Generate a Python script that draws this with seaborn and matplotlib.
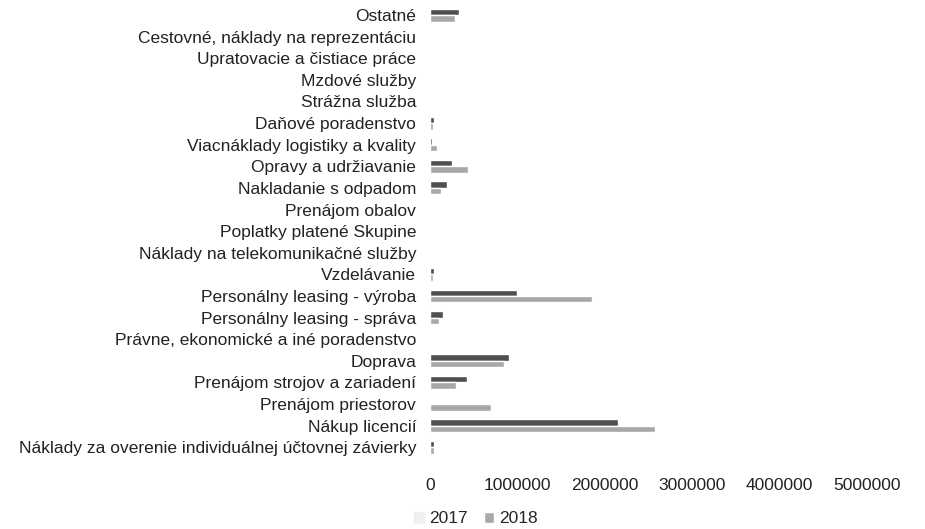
import pandas as pd
import matplotlib.pyplot as plt
import seaborn as sns

# Categories (top to bottom) and values
categories = [
    "Ostatné",
    "Cestovné, náklady na reprezentáciu",
    "Upratovacie a čistiace práce",
    "Mzdové služby",
    "Strážna služba",
    "Daňové poradenstvo",
    "Viacnáklady logistiky a kvality",
    "Opravy a udržiavanie",
    "Nakladanie s odpadom",
    "Prenájom obalov",
    "Poplatky platené Skupine",
    "Náklady na telekomunikačné služby",
    "Vzdelávanie",
    "Personálny leasing - výroba",
    "Personálny leasing - správa",
    "Právne, ekonomické a iné poradenstvo",
    "Doprava",
    "Prenájom strojov a zariadení",
    "Prenájom priestorov",
    "Nákup licencií",
    "Náklady za overenie individuálnej účtovnej závierky",
]
values_2017 = [330000, 0, 0, 0, 0, 50000, 20000, 250000, 190000, 0, 0, 0,
               50000, 1000000, 150000, 0, 900000, 420000, 0, 2150000, 50000]
values_2018 = [280000, 0, 0, 0, 0, 30000, 80000, 430000, 120000, 0, 0, 0,
               30000, 1850000, 100000, 0, 850000, 300000, 700000, 2580000, 40000]
years = ["2017", "2018"]

df = pd.DataFrame({
    "Kategória": categories * 2,
    "Hodnota": values_2017 + values_2018,
    "Rok": [years[0]] * len(categories) + [years[1]] * len(categories),
})

sns.set_style("white")
plt.rcParams["font.family"] = ["Liberation Sans", "DejaVu Sans"]

fig = plt.figure(figsize=(9.25, 5.29), dpi=100)
ax = fig.add_axes([0.465, 0.134, 0.472, 0.858])
sns.barplot(data=df, y="Kategória", x="Hodnota", hue="Rok", orient="h",
            palette=["#4f4f4f", "#a8a8a8"], width=0.6, ax=ax)

ax.set_xlim(0, 5000000)
ax.set_xticks([0, 1000000, 2000000, 3000000, 4000000, 5000000])
ax.set_xticklabels(["0", "1000000", "2000000", "3000000", "4000000", "5000000"])
ax.tick_params(axis="both", labelsize=12.5, colors="#222222", length=0)
ax.tick_params(axis="x", pad=14)
ax.tick_params(axis="y", pad=10)
ax.set_xlabel("")
ax.set_ylabel("")
sns.despine(left=True, bottom=True)

leg = ax.legend(loc="center", bbox_to_anchor=(0.105, -0.134), ncol=2, frameon=False,
                fontsize=12.5, handlelength=0.6, handleheight=0.6, handletextpad=0.3,
                columnspacing=0.9, borderpad=0)
leg.legend_handles[0].set_color("#f0f0f0")

fig.savefig("out.png", dpi=100)
